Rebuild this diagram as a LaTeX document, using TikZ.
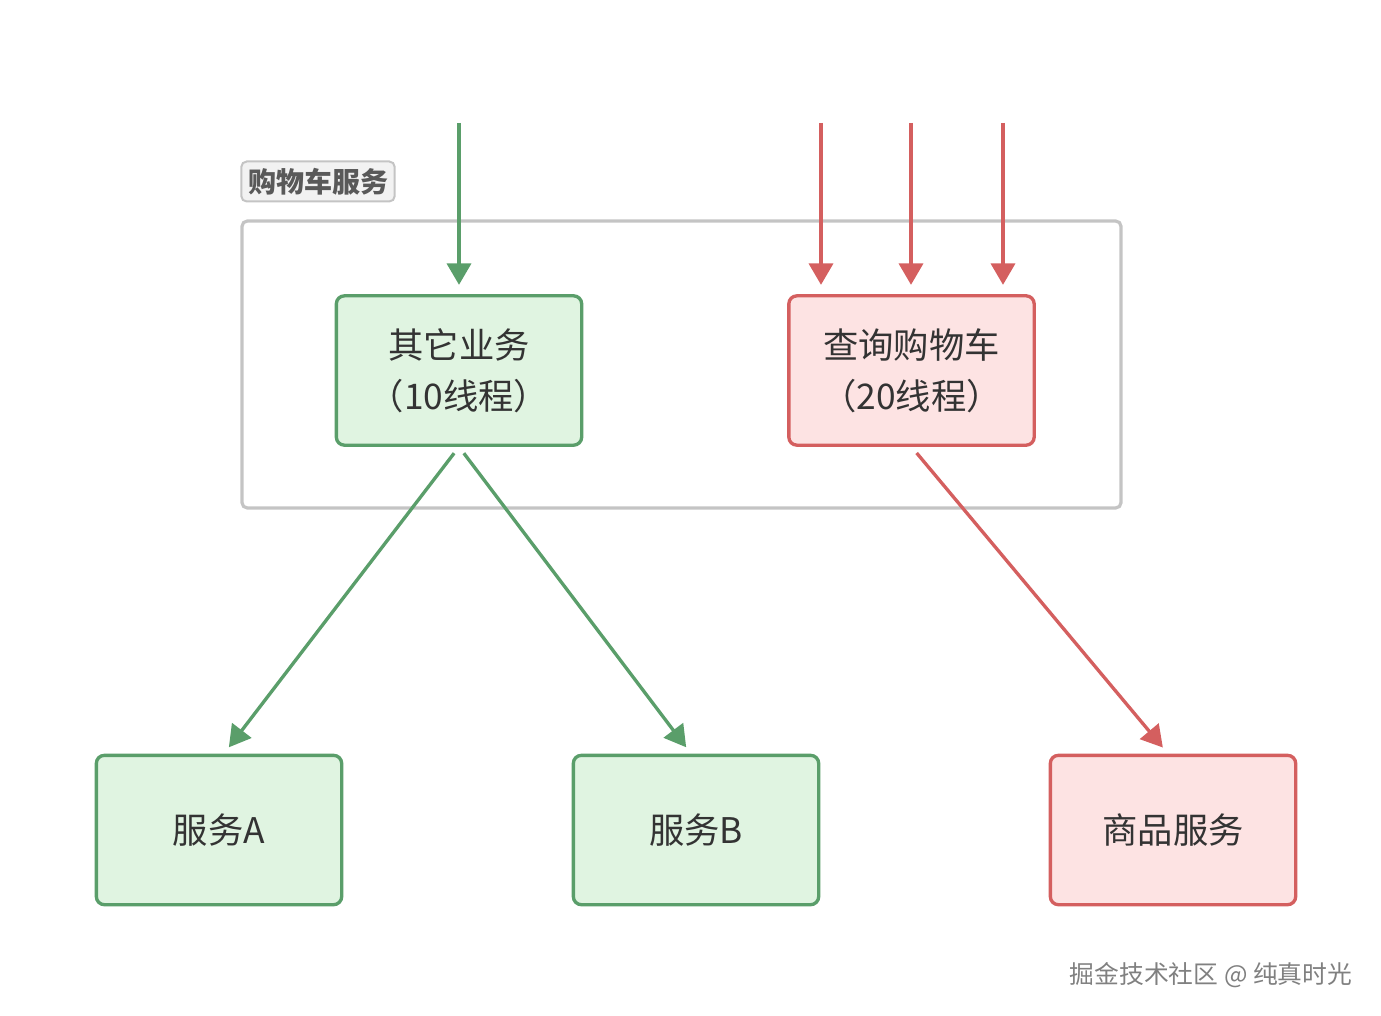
\documentclass[tikz,border=0pt]{standalone}
\usepackage{fontspec}
\setmainfont{Noto Sans CJK SC}
\usetikzlibrary{arrows.meta, calc}
\definecolor{gline}{HTML}{5A9E6A}
\definecolor{gfill}{HTML}{E0F4E1}
\definecolor{rline}{HTML}{D45F5F}
\definecolor{rfill}{HTML}{FDE3E3}
\definecolor{frame}{HTML}{C4C4C4}
\tikzset{
	gbox/.style={draw=gline, fill=gfill, line width=2.5pt, rounded corners=6pt, minimum width=184pt, minimum height=112pt, align=center, text=black!80, font=\fontsize{26.5}{38}\selectfont},
	rbox/.style={gbox, draw=rline, fill=rfill},
	garrow/.style={-{Triangle[width=18pt,length=16pt]}, line width=2.5pt, gline},
	rarrow/.style={garrow, rline}
}

\begin{document}
\begin{tikzpicture}[x=0.75pt, y=-0.75pt]
		\useasboundingbox (0,0) rectangle (1381,1016);
		\draw[frame, line width=2.4pt, rounded corners=4pt] (242,221) rectangle (1121,508); %服务框
		\node[draw=frame, fill=black!5, line width=1.5pt, rounded corners=4pt, minimum width=115pt, minimum height=30pt, text=black!65, font=\fontsize{21}{24}\selectfont\bfseries] (title) at (318,181.5) {购物车服务};
		\node[gbox] (other) at (459,370.5) {其它业务\\（10线程）};
		\node[rbox] (query) at (911.5,370.5) {查询购物车\\（20线程）};
		\node[gbox] (svcA) at (219,830) {服务A};
		\node[gbox] (svcB) at (696,830) {服务B};
		\node[rbox] (goods) at (1173,830) {商品服务};
		\coordinate (in1) at (459,123);
		\coordinate (in2) at (821,123);
		\coordinate (in3) at (911,123);
		\coordinate (in4) at (1003,123);
		\draw[garrow, shorten >=7pt] (in1)--(other.north); %入口
		\draw[rarrow, shorten >=7pt] (in2)--(in2|-query.north);
		\draw[rarrow, shorten >=7pt] (in3)--(in3|-query.north);
		\draw[rarrow, shorten >=7pt] (in4)--(in4|-query.north);
		\draw[garrow, shorten <=6pt, shorten >=6pt] (other.south)--($(svcA.north)+(5,0)$); %下游
		\draw[garrow, shorten <=6pt, shorten >=6pt] (other.south)--($(svcB.north)+(-5,0)$);
		\draw[rarrow, shorten <=6pt, shorten >=6pt] (query.south)--($(goods.north)+(-5,0)$);
		\node[text=black!50, font=\fontsize{18.6}{22}\selectfont, anchor=east] (mark) at (1357,975) {掘金技术社区 @ 纯真时光};
	\end{tikzpicture}
\end{document}
